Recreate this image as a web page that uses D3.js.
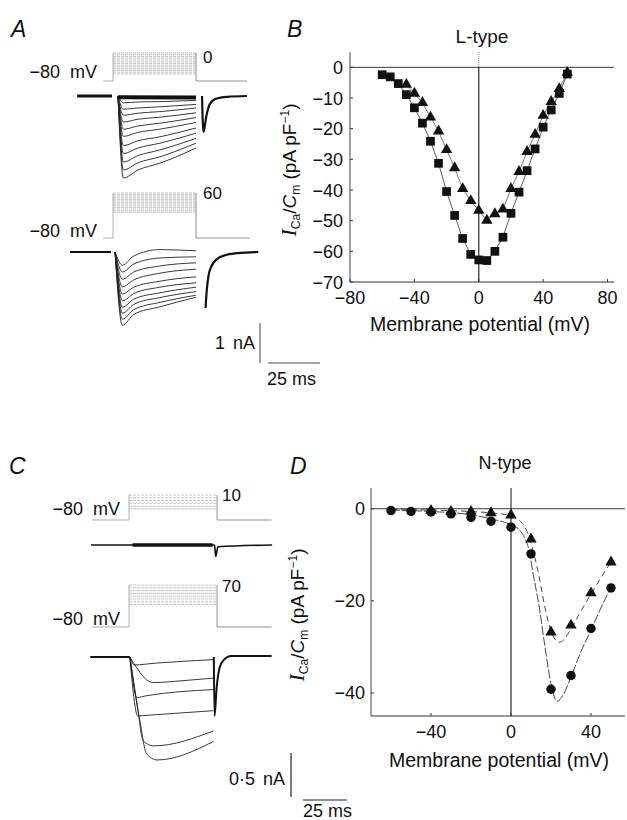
<!DOCTYPE html>
<html>
<head>
<meta charset="utf-8">
<script src="https://cdn.jsdelivr.net/npm/d3@7"></script>
<style>
  body { margin: 0; background: #fff; }
  text { font-family: "Liberation Sans", Arial, sans-serif; fill: #111; }
</style>
</head>
<body>
<script>
// ---------- data ----------

// Panel A: L-type currents, time in ms from step onset, current in nA
const aTopTimes = [2.4, 5, 12, 22.6, 40];
const aTopPeak = [-0.17, -0.33, -0.48, -0.65, -0.83, -1.01, -1.24, -1.44, -1.65, -1.85, -2.05];
const aTopM1 = [-0.15, -0.30, -0.43, -0.58, -0.75, -0.91, -1.12, -1.30, -1.49, -1.67, -1.85];
const aTopMid = [-0.14, -0.27, -0.39, -0.53, -0.68, -0.83, -1.02, -1.18, -1.35, -1.52, -1.68];
const aTopEnd = [-0.11, -0.21, -0.30, -0.42, -0.54, -0.66, -0.80, -0.93, -1.06, -1.18, -1.30];
const aTopTail = [[42.9, 0], [43.6, -0.9], [45, -0.5], [46.5, -0.22], [49.5, -0.07], [55, -0.02], [64.6, 0]];
const aTopSteps = [-60, -55, -50, -45, -40, -35, -30, -25, -20, -15, -10, -5, 0];

const aBotTimes = [1, 4.5, 10, 22.6, 40];
const aBotPeak = [-0.33, -0.50, -0.68, -0.87, -1.05, -1.22, -1.38, -1.53, -1.68, -1.83];
const aBotM1 = [-0.10, -0.30, -0.50, -0.70, -0.88, -1.04, -1.18, -1.31, -1.44, -1.56];
const aBotMid = [0.06, -0.15, -0.35, -0.53, -0.73, -0.88, -1.02, -1.14, -1.26, -1.37];
const aBotEnd = [0.03, -0.12, -0.27, -0.43, -0.62, -0.77, -0.88, -0.99, -1.08, -1.13];
const aBotTail = [[44.6, -1.4], [45.2, -0.95], [46, -0.6], [47.5, -0.35], [50, -0.18], [54, -0.08], [60, -0.03], [70, 0]];
const aBotSteps = [0, 5, 10, 15, 20, 25, 30, 35, 40, 45, 50, 55, 60];

// Panel B: L-type I-V (pA/pF)
const bSqVm = [-60, -55, -50, -45, -40, -35, -30, -25, -20, -15, -10, -5, 0, 5, 10, 15, 20, 25, 30, 35, 40, 45, 50, 55];
const bSquares = [-2.4, -3.1, -5.3, -8.9, -13.2, -18.2, -24.1, -31.3, -40.5, -48.3, -55.8, -61, -62.8, -63, -60, -55.4, -47.6, -40.7, -33.7, -26.6, -19.5, -13.9, -8.5, -2.2];
const bTriVm = [-45, -40, -35, -30, -25, -20, -15, -10, -5, 0, 5, 10, 15, 20, 25, 30, 35, 40, 45, 50, 55];
const bTriangles = [-5.6, -8.5, -11.5, -16.3, -20.8, -26.9, -32.8, -39.6, -43.5, -46.7, -49.9, -47.8, -46.3, -39.6, -34, -27.5, -21.9, -15.7, -11.2, -7, -1.7];

// Panel C: N-type currents, time in ms, current in nA
const cTimes = [
  [0.5, 3, 15, 48],
  [0.5, 5, 10, 14, 30, 48],
  [0.5, 4.5, 10, 48],
  [0.5, 5, 12, 48],
  [0.5, 5, 8, 14, 48],
  [0.5, 6, 10, 16, 48]
];
const cCurrents = [
  [0, -0.09, -0.07, -0.03],
  [0, -0.14, -0.26, -0.29, -0.27, -0.24],
  [0, -0.46, -0.44, -0.37],
  [0, -0.67, -0.66, -0.61],
  [0, -0.6, -0.95, -1.01, -0.84],
  [0, -0.7, -1.1, -1.17, -0.96]
];
const cTail = [[48.2, 0], [48.6, -0.67], [49.8, -0.35], [51.5, -0.12], [54, -0.03], [58, 0.01], [81, 0.01]];
const cTopTrace = [[-21.6, 0], [48.6, 0], [49.3, -0.13], [50.5, -0.02], [81.3, 0]];
const cTopSteps = [-40, -30, -20, -10, 0, 10];
const cBotSteps = [0, 10, 20, 30, 40, 50, 60, 70];

// Panel D: N-type I-V (pA/pF)
const dVm = [-60, -50, -40, -30, -20, -10, 0, 10, 20, 30, 40, 50];
const dCircles = [-0.4, -0.6, -0.7, -1.1, -1.9, -2.7, -4.0, -9.8, -39.2, -36.2, -26.0, -17.2];
const dTriVm = [-40, -30, -20, -10, 0, 10, 20, 30, 40, 50];
const dTriangles = [-0.4, -0.6, -0.6, -0.9, -1.4, -6.6, -26.8, -25.3, -18.3, -11.6];
const dCircFitVm = [-60, -40, -20, -10, 0, 4, 7, 9, 11, 14, 17, 20, 23, 26, 30, 35, 40, 45, 50];
const dCircFit = [-0.3, -0.6, -1.3, -2.2, -3.5, -4.5, -6.5, -9, -14, -21, -30, -38, -41.8, -40.5, -36.5, -31, -26.3, -21.5, -17];
const dTriFitVm = [-60, -40, -20, -10, 0, 4, 7, 10, 13.7, 17, 20, 24, 27, 30, 35, 40, 45, 50];
const dTriFit = [-0.2, -0.3, -0.6, -0.9, -1.5, -2.5, -4, -7.5, -14, -21.5, -26.5, -29, -28.2, -26, -22.2, -18.5, -15, -11.5];

// ---------- drawing ----------
const W = 627, H = 820;
const svg = d3.select("body").append("svg").attr("width", W).attr("height", H);
svg.append("rect").attr("width", W).attr("height", H).attr("fill", "#fff");

const zip = (xs, ys) => xs.map((x, i) => [x, ys[i]]);

function panelLetter(x, y, s) {
  svg.append("text").attr("x", x).attr("y", y).attr("font-size", 23)
    .attr("font-style", "italic").text(s);
}
panelLetter(11, 37, "A");
panelLetter(287, 37, "B");
panelLetter(9, 474, "C");
panelLetter(290, 474, "D");

// protocol (voltage step family)
function protocol(tS, vS, steps, t0, t1, tEnd, labelX, labelY, label, textX, textY) {
  const g = svg.append("g");
  const vmax = d3.max(steps);
  g.append("path")
    .attr("d", d3.line()([[tS(t0), vS(-80)], [tS(0), vS(-80)], [tS(0), vS(vmax)]]))
    .attr("fill", "none").attr("stroke", "#999").attr("stroke-width", 0.8);
  g.append("path")
    .attr("d", d3.line()([[tS(t1), vS(vmax)], [tS(t1), vS(-80)], [tS(tEnd), vS(-80)]]))
    .attr("fill", "none").attr("stroke", "#777").attr("stroke-width", 0.8);
  g.selectAll("line.step").data(steps).join("line")
    .attr("x1", tS(0)).attr("x2", tS(t1))
    .attr("y1", d => vS(d)).attr("y2", d => vS(d))
    .attr("stroke", "#aaa").attr("stroke-width", 0.7).attr("stroke-dasharray", "3,1");
  svg.append("text").attr("x", labelX).attr("y", labelY).attr("font-size", 17).text(label);
  svg.append("text").attr("x", textX).attr("y", textY).attr("font-size", 18)
    .attr("text-anchor", "end").attr("word-spacing", 5).text("\u221280 mV");
}

function traces(tS, iS, times, series, width) {
  const line = d3.line().x(d => tS(d[0])).y(d => iS(d[1])).curve(d3.curveMonotoneX);
  svg.append("g").selectAll("path").data(series).join("path")
    .attr("d", (d, i) => line(zip(Array.isArray(times[0]) ? times[i] : times, d)))
    .attr("fill", "none").attr("stroke", "#222").attr("stroke-width", width || 0.9);
}
function trace(tS, iS, pts, width) {
  const line = d3.line().x(d => tS(d[0])).y(d => iS(d[1])).curve(d3.curveMonotoneX);
  svg.append("path").attr("d", line(pts)).attr("fill", "none")
    .attr("stroke", "#111").attr("stroke-width", width);
}

// ----- Panel A -----
const tA = d3.scaleLinear().domain([0, 40]).range([113, 196]);
const iATop = d3.scaleLinear().domain([0, -2]).range([96, 176]);
const iABot = d3.scaleLinear().domain([0, -2]).range([252, 332]);
const vATop = d3.scaleLinear().domain([-80, 0]).range([81, 53]);
const vABot = d3.scaleLinear().domain([-80, 60]).range([238, 193]);

protocol(tA, vATop, aTopSteps, -4.8, 40, 64.6, 203, 63, "0", 97, 78);
protocol(tA, vABot, aBotSteps, -4.8, 40, 66, 203, 199, "60", 97, 237);

traces(tA, iATop, aTopTimes, aTopPeak.map((p, i) => [0, p, aTopM1[i], aTopMid[i], aTopEnd[i]]));
trace(tA, iATop, [[-17.3, 0], [-0.5, 0]], 3);
trace(tA, iATop, [[2.4, -0.03], [40, -0.04]], 4);
trace(tA, iATop, aTopTail, 2.2);

traces(tA, iABot, aBotTimes, aBotPeak.map((p, i) => [0, p, aBotM1[i], aBotMid[i], aBotEnd[i]]));
trace(tA, iABot, [[-20.7, 0], [-1, 0]], 2.2);
trace(tA, iABot, aBotTail, 2.2);

// scale bar A
const sbA = svg.append("g").attr("stroke", "#444").attr("stroke-width", 1);
sbA.append("line").attr("x1", 260).attr("x2", 260).attr("y1", 363 - (iATop(-1) - iATop(0))).attr("y2", 363);
sbA.append("line").attr("x1", 268).attr("x2", 268 + tA(25) - tA(0)).attr("y1", 363).attr("y2", 363);
svg.append("text").attr("x", 255).attr("y", 349).attr("font-size", 18).attr("word-spacing", 3)
  .attr("text-anchor", "end").text("1 nA");
svg.append("text").attr("x", 267).attr("y", 385).attr("font-size", 18).text("25 ms");

// ----- Panel C -----
const tC = d3.scaleLinear().domain([0, 50]).range([129, 217]);
const iCTop = d3.scaleLinear().domain([0, -1]).range([545, 633]);
const iCBot = d3.scaleLinear().domain([0, -1]).range([657, 745]);
const vCTop = d3.scaleLinear().domain([-80, 10]).range([520, 495]);
const vCBot = d3.scaleLinear().domain([-80, 70]).range([627, 585]);

protocol(tC, vCTop, cTopSteps, -21, 50, 81, 222, 501, "10", 120, 515);
protocol(tC, vCBot, cBotSteps, -21, 50, 81, 222, 592, "70", 120, 625);

trace(tC, iCTop, cTopTrace, 1.6);
trace(tC, iCTop, [[2, 0], [47.5, 0]], 3.5);

traces(tC, iCBot, cTimes, cCurrents);
trace(tC, iCBot, [[-22, 0], [0.5, 0]], 2.2);
trace(tC, iCBot, cTail, 2);

const sbC = svg.append("g").attr("stroke", "#222").attr("stroke-width", 1.2);
sbC.append("line").attr("x1", 291).attr("x2", 291).attr("y1", 797 - (iCBot(-0.5) - iCBot(0))).attr("y2", 797);
sbC.append("line").attr("x1", 303).attr("x2", 303 + tC(25) - tC(0)).attr("y1", 800).attr("y2", 800);
svg.append("text").attr("x", 285).attr("y", 785).attr("font-size", 18).attr("word-spacing", 3)
  .attr("text-anchor", "end").text("0\u00b75 nA");
svg.append("text").attr("x", 303).attr("y", 817).attr("font-size", 18).text("25 ms");

// ----- I-V panels -----
function ylabel(x, y) {
  const t = svg.append("text").attr("transform", `translate(${x},${y}) rotate(-90)`)
    .attr("text-anchor", "middle").attr("font-size", 19);
  t.append("tspan").attr("font-style", "italic").attr("font-family", "Liberation Serif").attr("font-size", 22).text("I");
  t.append("tspan").attr("font-size", 12).attr("dy", 4).text("Ca");
  t.append("tspan").attr("dy", -4).text("/");
  t.append("tspan").attr("font-style", "italic").text("C");
  t.append("tspan").attr("font-size", 12).attr("dy", 4).text("m");
  t.append("tspan").attr("dy", -4).text(" (pA pF");
  t.append("tspan").attr("font-size", 12).attr("dy", -7).text("\u22121");
  t.append("tspan").attr("dy", 7).text(")");
}

function axes(x, y, xticks, yticks, yLabelGap, dottedTop) {
  const g = svg.append("g");
  const [x0, x1] = x.range(), [y0, y1] = y.range();
  g.append("line").attr("x1", x0).attr("x2", x0).attr("y1", y0).attr("y2", y1).attr("stroke", "#444");
  g.append("line").attr("x1", x0).attr("x2", x1).attr("y1", y1).attr("y2", y1).attr("stroke", "#333");
  g.append("line").attr("x1", x0).attr("x2", x1).attr("y1", y(0)).attr("y2", y(0)).attr("stroke", "#222").attr("stroke-width", 0.9);
  g.append("line").attr("x1", x(0)).attr("x2", x(0)).attr("y1", y0).attr("y2", y(0))
    .attr("stroke", dottedTop ? "#888" : "#111").attr("stroke-dasharray", dottedTop ? "1,1" : null);
  g.append("line").attr("x1", x(0)).attr("x2", x(0)).attr("y1", y(0)).attr("y2", y1).attr("stroke", "#111").attr("stroke-width", 1.1);
  const fmt = v => (v < 0 ? "\u2212" + Math.abs(v) : String(v));
  g.selectAll("text.xt").data(xticks).join("text")
    .attr("x", d => x(d)).attr("y", y1 + 22).attr("font-size", 18).attr("text-anchor", "middle").text(fmt);
  g.selectAll("text.yt").data(yticks).join("text")
    .attr("x", x0 - yLabelGap).attr("y", d => y(d) + 6.5).attr("font-size", 18).attr("text-anchor", "end").text(fmt);
  g.selectAll("line.xtk").data(xticks).join("line")
    .attr("x1", d => x(d)).attr("x2", d => x(d)).attr("y1", y1).attr("y2", y1 - 3).attr("stroke", "#333");
  g.selectAll("line.ytk").data(yticks).join("line")
    .attr("x1", x0).attr("x2", x0 + 3).attr("y1", d => y(d)).attr("y2", d => y(d)).attr("stroke", "#333");
}

// ----- Panel B -----
const xB = d3.scaleLinear().domain([-80, 84]).range([350, 614]);
const yB = d3.scaleLinear().domain([5, -70]).range([52, 282]);
axes(xB, yB, [-80, -40, 0, 40, 80], [0, -10, -20, -30, -40, -50, -60, -70], 7, true);
svg.append("text").attr("x", 482).attr("y", 43).attr("font-size", 19).attr("text-anchor", "middle").text("L-type");
svg.append("text").attr("x", 480).attr("y", 331).attr("font-size", 19.5).attr("text-anchor", "middle").text("Membrane potential (mV)");
ylabel(296, 170);

const lineB = d3.line().x(d => xB(d[0])).y(d => yB(d[1]));
svg.append("path").attr("d", lineB(zip(bSqVm, bSquares))).attr("fill", "none").attr("stroke", "#333").attr("stroke-width", 0.8);
svg.append("path").attr("d", lineB(zip(bTriVm, bTriangles))).attr("fill", "none").attr("stroke", "#555").attr("stroke-width", 0.8);
svg.append("g").selectAll("path").data(zip(bSqVm, bSquares)).join("path")
  .attr("d", d3.symbol(d3.symbolSquare, 76))
  .attr("transform", d => `translate(${xB(d[0])},${yB(d[1])})`).attr("fill", "#111");
svg.append("g").selectAll("path").data(zip(bTriVm, bTriangles)).join("path")
  .attr("d", d3.symbol(d3.symbolTriangle, 56))
  .attr("transform", d => `translate(${xB(d[0])},${yB(d[1])})`).attr("fill", "#111");

// ----- Panel D -----
const xD = d3.scaleLinear().domain([-70, 57]).range([371, 625]);
const yD = d3.scaleLinear().domain([4.5, -45]).range([488, 716]);
axes(xD, yD, [-40, 0, 40], [0, -20, -40], 6, false);
svg.append("text").attr("x", 505).attr("y", 469).attr("font-size", 18).attr("text-anchor", "middle").text("N-type");
svg.append("text").attr("x", 499).attr("y", 767).attr("font-size", 19.5).attr("text-anchor", "middle").text("Membrane potential (mV)");
ylabel(304, 615);

const lineD = d3.line().x(d => xD(d[0])).y(d => yD(d[1])).curve(d3.curveMonotoneX);
svg.append("path").attr("d", lineD(zip(dCircFitVm, dCircFit))).attr("fill", "none").attr("stroke", "#333").attr("stroke-width", 0.9).attr("stroke-dasharray", "9,2");
svg.append("path").attr("d", lineD(zip(dTriFitVm, dTriFit))).attr("fill", "none").attr("stroke", "#333").attr("stroke-width", 0.9).attr("stroke-dasharray", "6,4");
svg.append("g").selectAll("path").data(zip(dVm, dCircles)).join("path")
  .attr("d", d3.symbol(d3.symbolCircle, 70))
  .attr("transform", d => `translate(${xD(d[0])},${yD(d[1])})`).attr("fill", "#111");
svg.append("g").selectAll("path").data(zip(dTriVm, dTriangles)).join("path")
  .attr("d", d3.symbol(d3.symbolTriangle, 56))
  .attr("transform", d => `translate(${xD(d[0])},${yD(d[1])})`).attr("fill", "#111");
</script>
</body>
</html>
